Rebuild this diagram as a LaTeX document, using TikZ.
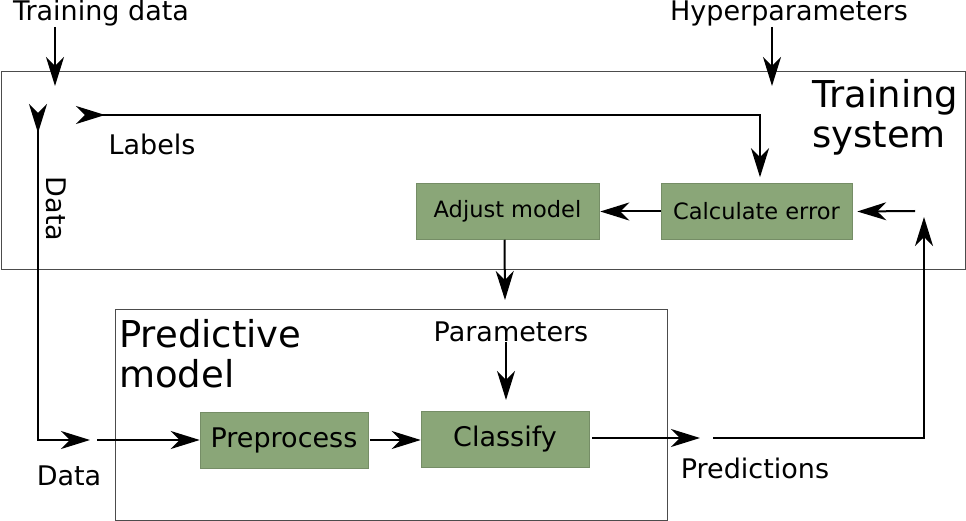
\documentclass[tikz,border=0pt]{standalone}
\usepackage{fontspec}
\setmainfont{DejaVu Sans}
\usepackage{tikz}
\usetikzlibrary{positioning,arrows.meta}
\definecolor{blockgreen}{RGB}{138,166,120}

\begin{document}
\begin{tikzpicture}[x=1pt, y=-1pt,
    >={Stealth[length=29pt, width=18pt, inset=9pt]},
    frame/.style={draw=black!70, line width=1pt},
    block/.style={fill=blockgreen, draw=blockgreen!85!black, line width=0.5pt, minimum height=56pt, inner sep=0pt},
    bigfont/.style={font=\fontsize{27}{31}\selectfont},
    smallfont/.style={font=\fontsize{22.5}{26}\selectfont},
    title/.style={font=\fontsize{37}{40}\selectfont, align=left, inner sep=0pt},
    lbl/.style={font=\fontsize{27}{31}\selectfont, inner sep=0pt},
    flow/.style={line width=2pt},
    splitflow/.style={line width=2pt, {Stealth[length=29pt, width=18pt, inset=9pt, reversed]}->}]

    \useasboundingbox (0,0) rectangle (966,521);

    % System frames
    \draw[frame] (1,72) rectangle (965,270);
    \draw[frame] (115,309) rectangle (667,520);
    \node[title, anchor=north west] (trainsys) at (812,79) {Training\\system};
    \node[title, anchor=north west] (predmodel) at (119,319) {Predictive\\model};

    % Processing blocks
    \node[block, smallfont, minimum width=183pt] (adjust) at (507.5,211.5) {Adjust model};
    \node[block, smallfont, minimum width=191pt] (calc) at (756.5,211.5) {Calculate error};
    \node[block, bigfont, minimum width=168pt] (prep) at (284,440) {Preprocess};
    \node[block, bigfont, minimum width=168pt] (classify) at (505,439) {Classify};

    % Labels
    \node[lbl, anchor=base] (traindata) at (101,21) {Training data};
    \node[lbl, anchor=base] (hyper) at (789,21) {Hyperparameters};
    \node[lbl, anchor=base] (labels) at (152,155) {Labels};
    \node[lbl, rotate=-90] (datav) at (56,209) {Data};
    \node[lbl, anchor=base] (datah) at (69,485) {Data};
    \node[lbl, anchor=base] (params) at (511,341) {Parameters};
    \node[lbl, anchor=base] (preds) at (755,478) {Predictions};

    % Free ends
    \coordinate (tdin) at (55,86);
    \coordinate (hpin) at (772,86);
    \coordinate (datasplit) at (38,104);
    \coordinate (labsplit) at (76,115);
    \coordinate (dataend) at (90,440);
    \coordinate (datastart) at (97,440);
    \coordinate (paramend) at (505,300);
    \coordinate (paramin) at (506,400);
    \coordinate (predend) at (700,438);
    \coordinate (fbstart) at (713,438);
    \coordinate (fbtip) at (924,217);
    \coordinate (errstart) at (915,211);

    % Training flow
    \draw[flow, ->] (traindata.south -| tdin) -- (tdin);
    \draw[flow, ->] (hyper.south -| hpin) -- (hpin);
    \draw[splitflow] (datasplit) |- (dataend);
    \draw[splitflow, shorten >=6pt] (labsplit) -| ([xshift=3.5pt]calc.north);
    \draw[flow, ->] (errstart) -- ([xshift=5pt]calc.east);
    \draw[flow, ->] (calc.west) -- ([xshift=1pt]adjust.east);
    \draw[flow, ->] ([xshift=-3pt]adjust.south) -- (paramend);

    % Prediction flow
    \draw[flow, ->] (datastart) -- (datastart -| prep.west);
    \draw[flow, ->] ([xshift=2pt]prep.east) -- (prep.east -| classify.west);
    \draw[flow, ->] (params.south -| paramin) -- (paramin);
    \draw[flow, ->] ([xshift=3pt]classify.east |- predend) -- (predend);
    \draw[flow, ->] (fbstart) -| (fbtip);
\end{tikzpicture}
\end{document}
